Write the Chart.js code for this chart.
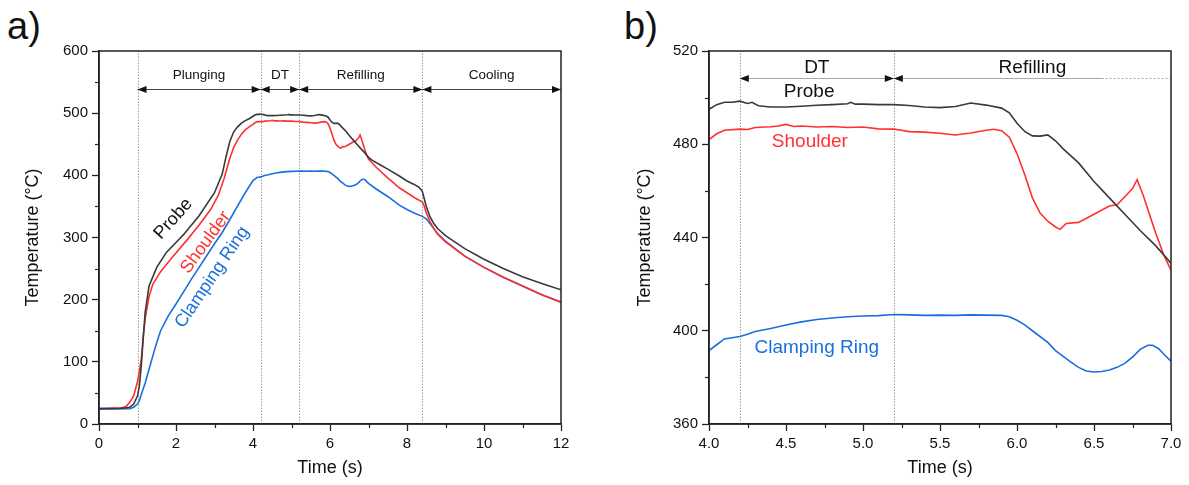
<!DOCTYPE html>
<html>
<head>
<meta charset="utf-8">
<script src="https://cdn.jsdelivr.net/npm/chart.js@4.4.1/dist/chart.umd.min.js"></script>
<style>
html, body { margin: 0; padding: 0; background: #fff; }
body { width: 1189px; height: 485px; position: relative; overflow: hidden; font-family: "Liberation Sans", Arial, sans-serif; }
canvas { position: absolute; top: 0; }
.tag { position: absolute; top: 6px; font-size: 38px; line-height: 40px; color: #111; }
</style>
</head>
<body>
<div class="tag" style="left:7px">a)</div>
<div class="tag" style="left:624px">b)</div>
<canvas id="chartA" width="594" height="485" style="left:0"></canvas>
<canvas id="chartB" width="595" height="485" style="left:594px"></canvas>
<script>
// Thermocouple readings (time in s, temperature in degC)
const probeTime = [0, 0.5, 0.7, 0.8, 0.9, 1.0, 1.05, 1.1, 1.15, 1.2, 1.3, 1.5, 1.75, 2.0, 2.2, 2.6, 3.0, 3.2, 3.3, 3.4, 3.5, 3.6, 3.7, 3.8, 3.9,
    4.0, 4.05, 4.1, 4.15, 4.2, 4.25, 4.28, 4.32, 4.4, 4.5, 4.6, 4.7, 4.8, 4.9, 4.92, 4.95, 5.0, 5.1, 5.2, 5.3, 5.4, 5.5, 5.6, 5.7, 5.8, 5.9, 5.95,
    6.0, 6.05, 6.1, 6.15, 6.2, 6.25, 6.3, 6.4, 6.5, 6.6, 6.7, 6.8, 6.9, 7.0, 7.1, 7.3, 7.5, 7.8, 8.0, 8.2, 8.3, 8.35, 8.4, 8.45, 8.5, 8.6, 8.7, 8.8,
    9.0, 9.5, 10.0, 10.5, 11.0, 11.5, 12.0];
const probeTemp = [25, 25, 26, 27, 32, 45, 62, 95, 140, 180, 222, 252, 276, 292, 305, 335, 372, 402, 430, 455, 470, 478, 484, 488, 491,
    495, 497, 498, 498, 498.5, 497.5, 498, 496.5, 496, 496, 496.3, 496.7, 497, 497.4, 498, 497.2, 497.2, 497, 497, 496.6, 496, 495.7, 496.2, 497.7, 496.8, 495.5, 493.5,
    489, 485.5, 483.6, 483.5, 484, 481.5, 478, 472, 464, 457, 450, 443, 436.5, 429, 424, 417, 410, 399, 391, 385, 381, 378, 374, 362, 350, 333, 322, 314,
    303, 282, 265, 250, 237, 226, 216];

const shoulderTime = [0, 0.6, 0.7, 0.8, 0.9, 1.0, 1.05, 1.1, 1.15, 1.2, 1.3, 1.4, 1.6, 1.9, 2.3, 2.6, 2.9, 3.1, 3.25, 3.4, 3.5, 3.6, 3.7, 3.8, 3.9,
    4.0, 4.05, 4.1, 4.2, 4.25, 4.3, 4.4, 4.45, 4.5, 4.55, 4.6, 4.7, 4.8, 4.9, 5.0, 5.1, 5.2, 5.25, 5.3, 5.4, 5.5, 5.6, 5.7, 5.8, 5.85, 5.9, 5.95,
    6.0, 6.05, 6.1, 6.15, 6.2, 6.25, 6.28, 6.32, 6.4, 6.5, 6.6, 6.65, 6.7, 6.75, 6.78, 6.82, 6.86, 6.9, 6.95, 7.0, 7.2, 7.5, 7.8, 8.0, 8.2, 8.4, 8.45, 8.5,
    8.6, 8.7, 8.8, 9.0, 9.5, 10.0, 10.5, 11.0, 11.5, 12.0];
const shoulderTemp = [25, 26, 28, 35, 45, 68, 85, 105, 140, 170, 205, 225, 245, 268, 297, 320, 345, 368, 395, 428, 445, 457, 466, 473, 478,
    482, 484.5, 486, 486.5, 486.3, 487.2, 487.5, 487.8, 488.5, 487.6, 487.8, 487.4, 487.6, 487.2, 487.4, 486.6, 486.5, 486, 485.4, 485.2, 484.7, 484, 484.8, 486, 486.4, 485.8, 483,
    476, 467, 457, 450.5, 447, 444.5, 443.5, 446, 446.5, 450, 453.5, 454, 457.5, 461, 464.8, 458, 450, 442, 433, 426, 413, 396, 380, 372, 364, 357, 350, 340,
    325, 314, 305, 293, 270, 252, 236, 222, 208, 196];

const ringTime = [0, 0.8, 0.9, 1.0, 1.05, 1.1, 1.2, 1.3, 1.4, 1.5, 1.6, 1.8, 2.0, 2.2, 2.4, 2.6, 2.8, 3.0, 3.2, 3.4, 3.6, 3.8, 3.9,
    4.0, 4.05, 4.1, 4.15, 4.2, 4.25, 4.3, 4.4, 4.5, 4.6, 4.7, 4.8, 4.9, 5.0, 5.1, 5.2, 5.3, 5.4, 5.5, 5.6, 5.7, 5.8, 5.9, 5.95,
    6.0, 6.05, 6.1, 6.2, 6.25, 6.3, 6.35, 6.4, 6.45, 6.5, 6.55, 6.6, 6.65, 6.7, 6.75, 6.8, 6.85, 6.88, 6.92, 6.96, 7.0, 7.2, 7.5, 7.8,
    8.0, 8.2, 8.4, 8.5, 8.6, 8.8, 9.0, 9.5, 10.0, 10.5, 11.0, 11.5, 12.0];
const ringTemp = [24, 24.5, 27, 32, 38, 48, 66, 88, 110, 131, 150, 174, 193, 213, 233, 252, 271, 290, 308, 329, 351, 372, 382,
    391.5, 394, 396.5, 397, 397.5, 398.5, 399.7, 401, 402.5, 403.8, 404.8, 405.5, 406, 406.3, 406.5, 407, 406.8, 406.6, 406.7, 406.6, 406.8, 406.7, 406.6, 406,
    404.5, 402.5, 400, 395, 391.5, 389, 386.5, 384.3, 382.7, 382.3, 382.5, 383.2, 384.3, 386, 388.7, 392, 393.8, 393.8, 392.3, 389.5, 387, 378, 366, 352,
    345, 339, 334, 330, 322, 306, 294, 270, 252, 236, 222, 208, 196];

// Process phases
const phaseNames = ['Plunging', 'DT', 'Refilling', 'Cooling'];
const phaseBounds = [1.0, 4.2, 5.2, 8.4, 12.0];

// Axis ticks
const ticksXa = [0, 2, 4, 6, 8, 10, 12];
const ticksYa = [0, 100, 200, 300, 400, 500, 600];
const ticksXb = [4.0, 4.5, 5.0, 5.5, 6.0, 6.5, 7.0];
const ticksYb = [360, 400, 440, 480, 520];

const BLACK = '#3a3a3a', RED = '#ff3030', BLUE = '#1a6fdc';

Chart.defaults.font.family = '"Liberation Sans", Arial, Helvetica, sans-serif';
Chart.defaults.color = '#111';

function series(t, v) {
    return t.map((x, i) => ({ x: x, y: v[i] }));
}

function datasets() {
    const common = { pointRadius: 0, borderWidth: 1.6, tension: 0, fill: false };
    return [
        Object.assign({ label: 'Probe', data: series(probeTime, probeTemp), borderColor: BLACK }, common),
        Object.assign({ label: 'Shoulder', data: series(shoulderTime, shoulderTemp), borderColor: RED }, common),
        Object.assign({ label: 'Clamping Ring', data: series(ringTime, ringTemp), borderColor: BLUE }, common)
    ];
}

function axis(ticks, title, size, titlePad, fmt) {
    return {
        type: 'linear',
        min: ticks[0],
        max: ticks[ticks.length - 1],
        afterBuildTicks: s => { s.ticks = ticks.map(v => ({ value: v })); },
        afterFit: s => { if (s.isHorizontal()) s.height = size; else s.width = size; },
        ticks: { font: { size: 15 }, color: '#111', padding: 4, maxRotation: 0, autoSkip: false, callback: v => fmt(v) },
        grid: { display: true, drawOnChartArea: false, drawTicks: true, tickLength: 7, tickWidth: 1.3, tickColor: '#222' },
        border: { display: true, color: '#222', width: 1.5 },
        title: { display: true, text: title, font: { size: 18 }, color: '#111', padding: titlePad }
    };
}

// frame, minor ticks, phase markers and curve labels
function decor(cfg) {
    return {
        id: 'decor',
        beforeDatasetsDraw(chart) {
            const ctx = chart.ctx, a = chart.chartArea, xs = chart.scales.x;
            ctx.save();
            ctx.strokeStyle = '#9a9a9a';
            ctx.lineWidth = 1;
            ctx.setLineDash([1.5, 1.5]);
            phaseBounds.forEach(b => {
                if (b <= xs.min || b >= xs.max) return;
                const px = Math.round(xs.getPixelForValue(b)) + 0.5;
                ctx.beginPath();
                ctx.moveTo(px, a.bottom);
                ctx.lineTo(px, a.top);
                ctx.stroke();
            });
            ctx.restore();
        },
        afterDatasetsDraw(chart) {
            const ctx = chart.ctx, a = chart.chartArea, xs = chart.scales.x, ys = chart.scales.y;
            const yA = Math.round(ys.getPixelForValue(cfg.arrowY)) + 0.5;
            const yL = ys.getPixelForValue(cfg.labelY);
            ctx.save();
            ctx.font = cfg.phaseFont + 'px "Liberation Sans", Arial, sans-serif';
            ctx.textAlign = 'center';
            ctx.textBaseline = 'middle';
            const head = (x, dir) => {
                ctx.fillStyle = '#111';
                ctx.beginPath();
                ctx.moveTo(x, yA);
                ctx.lineTo(x - dir * 9, yA - 3.5);
                ctx.lineTo(x - dir * 9, yA + 3.5);
                ctx.closePath();
                ctx.fill();
            };
            for (let i = 0; i < phaseNames.length; i++) {
                const b0 = phaseBounds[i], b1 = phaseBounds[i + 1];
                if (b0 < xs.min || b0 >= xs.max) continue;
                const x0 = xs.getPixelForValue(b0);
                const x1 = Math.min(xs.getPixelForValue(b1), a.right);
                ctx.strokeStyle = cfg.lineColor;
                ctx.lineWidth = 1;
                if (b1 > xs.max && cfg.fadeFrom) {
                    const xf = xs.getPixelForValue(cfg.fadeFrom);
                    ctx.setLineDash([]);
                    ctx.beginPath(); ctx.moveTo(x0, yA); ctx.lineTo(xf, yA); ctx.stroke();
                    ctx.setLineDash([2, 2]);
                    ctx.beginPath(); ctx.moveTo(xf, yA); ctx.lineTo(x1, yA); ctx.stroke();
                    ctx.setLineDash([]);
                } else {
                    ctx.beginPath(); ctx.moveTo(x0, yA); ctx.lineTo(x1, yA); ctx.stroke();
                }
                head(x0, -1);
                if (b1 <= xs.max) head(x1, 1);
                ctx.fillStyle = '#111';
                ctx.fillText(phaseNames[i], (x0 + x1) / 2, yL);
            }
            cfg.labels.forEach(l => {
                ctx.save();
                ctx.translate(xs.getPixelForValue(l.x), ys.getPixelForValue(l.y));
                ctx.rotate((l.rot || 0) * Math.PI / 180);
                ctx.font = cfg.labelFont + 'px "Liberation Sans", Arial, sans-serif';
                ctx.fillStyle = l.color;
                ctx.textAlign = 'center';
                ctx.textBaseline = 'middle';
                ctx.fillText(l.text, 0, 0);
                ctx.restore();
            });
            ctx.restore();
        },
        afterDraw(chart) {
            const ctx = chart.ctx, a = chart.chartArea, xs = chart.scales.x, ys = chart.scales.y;
            ctx.save();
            ctx.strokeStyle = '#222';
            ctx.lineWidth = 1.5;
            ctx.strokeRect(a.left, a.top, a.right - a.left, a.bottom - a.top);
            ctx.lineWidth = 1.2;
            for (let i = 0; i < xs.ticks.length - 1; i++) {
                const px = Math.round(xs.getPixelForValue((xs.ticks[i].value + xs.ticks[i + 1].value) / 2)) + 0.5;
                ctx.beginPath(); ctx.moveTo(px, a.bottom); ctx.lineTo(px, a.bottom + 4); ctx.stroke();
            }
            for (let i = 0; i < ys.ticks.length - 1; i++) {
                const py = Math.round(ys.getPixelForValue((ys.ticks[i].value + ys.ticks[i + 1].value) / 2)) + 0.5;
                ctx.beginPath(); ctx.moveTo(a.left, py); ctx.lineTo(a.left - 4, py); ctx.stroke();
            }
            ctx.restore();
        }
    };
}

function makeChart(id, xTicks, yTicks, xFmt, yWidth, yTitlePad, padRight, cfg) {
    return new Chart(document.getElementById(id), {
        type: 'line',
        data: { datasets: datasets() },
        options: {
            responsive: false,
            animation: false,
            layout: { padding: { top: 51, right: padRight, left: 0, bottom: 0 } },
            plugins: { legend: { display: false }, tooltip: { enabled: false } },
            scales: {
                x: axis(xTicks, 'Time (s)', 61, { top: 0, bottom: 6 }, xFmt),
                y: axis(yTicks, 'Temperature (°C)', yWidth, { top: yTitlePad, bottom: 0 }, v => String(v))
            }
        },
        plugins: [decor(cfg)]
    });
}

makeChart('chartA', ticksXa, ticksYa, v => String(v), 99, 22, 33, {
    arrowY: 539, labelY: 561, phaseFont: 13.5, labelFont: 18, lineColor: '#444',
    labels: [
        { text: 'Probe', x: 1.93, y: 330, rot: -48, color: '#111' },
        { text: 'Shoulder', x: 2.77, y: 292, rot: -54, color: RED },
        { text: 'Clamping Ring', x: 2.94, y: 236, rot: -56, color: BLUE }
    ]
});

makeChart('chartB', ticksXb, ticksYb, v => v.toFixed(1), 115, 40, 18, {
    arrowY: 508.4, labelY: 512.7, phaseFont: 19, labelFont: 19, lineColor: '#a8a8a8', fadeFrom: 6.55,
    labels: [
        { text: 'Probe', x: 4.65, y: 502.6, color: '#111' },
        { text: 'Shoulder', x: 4.655, y: 481.1, color: RED },
        { text: 'Clamping Ring', x: 4.7, y: 392.8, color: BLUE }
    ]
});
</script>
</body>
</html>
